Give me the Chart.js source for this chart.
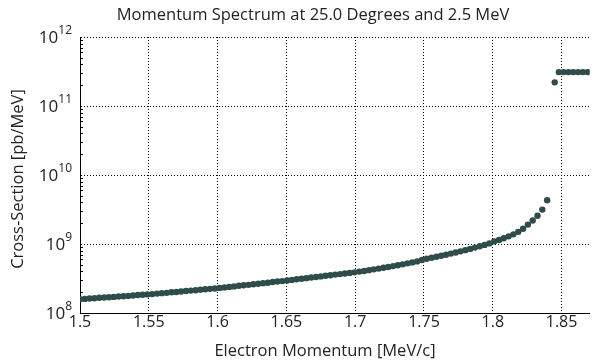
<!DOCTYPE html>
<html>
<head>
<meta charset="utf-8">
<script src="https://cdn.jsdelivr.net/npm/chart.js@4"></script>
<style>
  html, body { margin: 0; padding: 0; background: #fff; }
  #wrap { width: 593px; height: 362px; }
</style>
</head>
<body>
<div id="wrap"><canvas id="spectrum"></canvas></div>
<script>
// momentum bins [MeV/c]
const momentum = [
  1.5000, 1.5035, 1.5070, 1.5105, 1.5140, 1.5175, 1.5210, 1.5245, 1.5280, 1.5315,
  1.5350, 1.5385, 1.5420, 1.5455, 1.5490, 1.5525, 1.5560, 1.5595, 1.5630, 1.5665,
  1.5700, 1.5735, 1.5770, 1.5805, 1.5840, 1.5875, 1.5910, 1.5945, 1.5980, 1.6015,
  1.6050, 1.6085, 1.6120, 1.6155, 1.6190, 1.6225, 1.6260, 1.6295, 1.6330, 1.6365,
  1.6400, 1.6435, 1.6470, 1.6505, 1.6540, 1.6575, 1.6610, 1.6645, 1.6680, 1.6715,
  1.6750, 1.6785, 1.6820, 1.6855, 1.6890, 1.6925, 1.6960, 1.6995, 1.7030, 1.7065,
  1.7100, 1.7135, 1.7170, 1.7205, 1.7240, 1.7275, 1.7310, 1.7345, 1.7380, 1.7415,
  1.7450, 1.7485, 1.7520, 1.7555, 1.7590, 1.7625, 1.7660, 1.7695, 1.7730, 1.7765,
  1.7800, 1.7835, 1.7870, 1.7905, 1.7940, 1.7975, 1.8010, 1.8045, 1.8080, 1.8115,
  1.8150, 1.8185, 1.8220, 1.8255, 1.8290, 1.8325, 1.8360, 1.8395,
  1.8450, 1.8480, 1.8515, 1.8550, 1.8585, 1.8620, 1.8655, 1.8690
];

// cross-section [pb/MeV]
const crossSection = [
  1.58e8, 1.60e8, 1.62e8, 1.64e8, 1.66e8, 1.68e8, 1.69e8, 1.71e8, 1.73e8, 1.75e8,
  1.77e8, 1.79e8, 1.82e8, 1.84e8, 1.86e8, 1.88e8, 1.91e8, 1.94e8, 1.96e8, 2.00e8,
  2.02e8, 2.05e8, 2.08e8, 2.11e8, 2.14e8, 2.18e8, 2.21e8, 2.24e8, 2.27e8, 2.31e8,
  2.35e8, 2.39e8, 2.43e8, 2.48e8, 2.52e8, 2.56e8, 2.61e8, 2.66e8, 2.71e8, 2.75e8,
  2.81e8, 2.86e8, 2.90e8, 2.96e8, 3.02e8, 3.08e8, 3.14e8, 3.20e8, 3.27e8, 3.33e8,
  3.39e8, 3.46e8, 3.52e8, 3.60e8, 3.66e8, 3.73e8, 3.81e8, 3.88e8, 3.98e8, 4.07e8,
  4.18e8, 4.29e8, 4.40e8, 4.52e8, 4.65e8, 4.78e8, 4.92e8, 5.07e8, 5.24e8, 5.41e8,
  5.60e8, 5.86e8, 6.12e8, 6.32e8, 6.53e8, 6.76e8, 7.00e8, 7.26e8, 7.53e8, 7.83e8,
  8.15e8, 8.49e8, 8.87e8, 9.27e8, 9.70e8, 1.02e9, 1.09e9, 1.14e9, 1.21e9, 1.29e9,
  1.38e9, 1.50e9, 1.66e9, 1.91e9, 2.19e9, 2.57e9, 3.15e9, 4.30e9,
  2.20e11, 3.10e11, 3.10e11, 3.10e11, 3.10e11, 3.10e11, 3.10e11, 3.10e11
];

const xTicks = [1.5, 1.55, 1.6, 1.65, 1.7, 1.75, 1.8, 1.85];
const yTicks = [1e8, 1e9, 1e10, 1e11, 1e12];

const titleText = 'Momentum Spectrum at 25.0 Degrees and 2.5 MeV';
const xTitle = 'Electron Momentum [MeV/c]';
const yTitle = 'Cross-Section [pb/MeV]';

const FONT = '"Open Sans", Lato, sans-serif';
const INK = '#222';

// short inward ticks between the decades on the left axis
const minorTicks = {
  id: 'minorTicks',
  afterDraw(chart) {
    const y = chart.scales.y;
    const ctx = chart.ctx;
    const left = chart.chartArea.left;
    ctx.save();
    ctx.strokeStyle = '#000';
    ctx.lineWidth = 1;
    ctx.beginPath();
    for (let d = 8; d < 12; d++) {
      for (let m = 2; m < 10; m++) {
        const py = Math.round(y.getPixelForValue(m * Math.pow(10, d))) + 0.5;
        ctx.moveTo(left, py);
        ctx.lineTo(left + 3, py);
      }
    }
    ctx.stroke();
    ctx.restore();
  }
};

// decade labels as "10" with a raised exponent
const powerLabels = {
  id: 'powerLabels',
  afterDraw(chart) {
    const y = chart.scales.y;
    const ctx = chart.ctx;
    const right = chart.chartArea.left - 8;
    ctx.save();
    ctx.fillStyle = INK;
    ctx.textBaseline = 'alphabetic';
    ctx.textAlign = 'right';
    yTicks.forEach(v => {
      const py = y.getPixelForValue(v);
      const exp = String(Math.round(Math.log10(v)));
      ctx.font = '12px ' + FONT;
      const ew = ctx.measureText(exp).width;
      ctx.fillText(exp, right, py - 3);
      ctx.font = '17px ' + FONT;
      ctx.fillText('10', right - ew, py + 6);
    });
    ctx.restore();
  }
};

// chart title and both axis titles
const titles = {
  id: 'titles',
  afterDraw(chart) {
    const ctx = chart.ctx;
    const area = chart.chartArea;
    ctx.save();
    ctx.fillStyle = INK;
    ctx.textAlign = 'center';
    ctx.textBaseline = 'middle';
    ctx.font = '16.5px ' + FONT;
    ctx.fillText(titleText, 313, 15);
    ctx.fillText(xTitle, 325, 351);
    ctx.translate(18, (area.top + area.bottom) / 2 + 4);
    ctx.rotate(-Math.PI / 2);
    ctx.fillText(yTitle, 0, 0);
    ctx.restore();
  }
};

new Chart(document.getElementById('spectrum'), {
  type: 'scatter',
  data: {
    datasets: [{
      data: momentum.map((p, i) => ({x: p, y: crossSection[i]})),
      backgroundColor: '#2e4d4a',
      borderColor: '#2e4d4a',
      pointRadius: 3.2,
      pointHoverRadius: 3.2,
      borderWidth: 0
    }]
  },
  options: {
    responsive: true,
    maintainAspectRatio: false,
    animation: false,
    layout: { padding: { top: 37, left: 0, right: 0, bottom: 0 } },
    plugins: {
      legend: { display: false },
      tooltip: { enabled: false },
      title: { display: false }
    },
    scales: {
      x: {
        type: 'linear',
        min: 1.5,
        max: 1.8705,
        afterBuildTicks: s => { s.ticks = xTicks.map(v => ({value: v})); },
        afterFit: s => { s.height = 49; },
        ticks: {
          color: INK,
          font: { family: FONT, size: 16 },
          padding: 0,
          maxRotation: 0,
          callback: v => String(v)
        },
        grid: { color: '#000', drawTicks: false, lineWidth: 1 },
        border: { display: true, color: '#000', width: 1, dash: [1, 2] }
      },
      y: {
        type: 'logarithmic',
        min: 1e8,
        max: 1e12,
        afterBuildTicks: s => { s.ticks = yTicks.map(v => ({value: v})); },
        afterFit: s => { s.width = 80; },
        ticks: {
          padding: 6,
          callback: () => ''
        },
        grid: { color: '#000', drawTicks: false, lineWidth: 1 },
        border: { display: true, color: '#000', width: 1, dash: [1, 2] }
      }
    }
  },
  plugins: [minorTicks, powerLabels, titles]
});
</script>
</body>
</html>
